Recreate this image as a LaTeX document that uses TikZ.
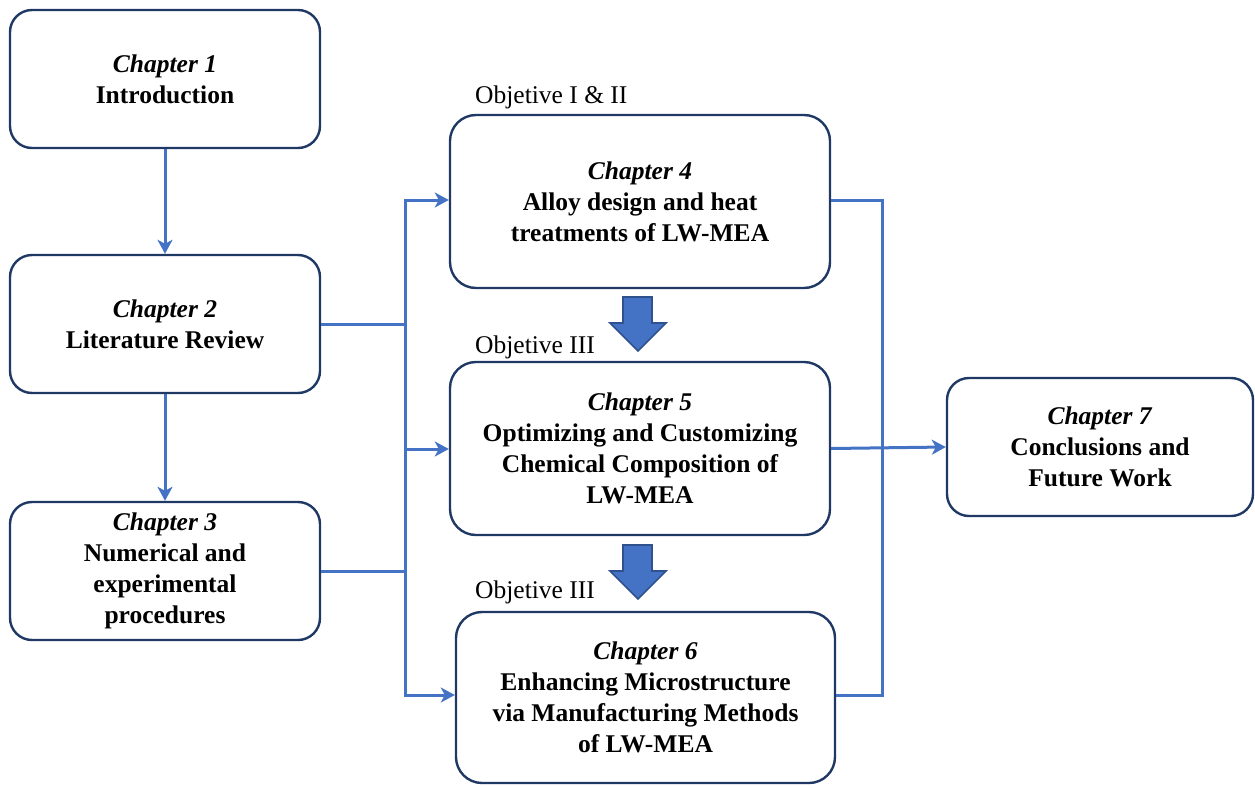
\documentclass[tikz,border=0pt]{standalone}
\usepackage{fontspec}
\setmainfont{Liberation Serif}
\usetikzlibrary{arrows.meta}
\definecolor{boxline}{HTML}{1F3864}
\definecolor{flow}{HTML}{4472C4}
\definecolor{flowdark}{HTML}{2F528F}
\begin{document}
\begin{tikzpicture}[x=1pt,y=-1pt,
  chapbox/.style={draw=boxline,line width=2.4pt,rounded corners=22pt,
    align=center,inner sep=0pt,font=\fontsize{25.5}{31}\selectfont\bfseries},
  flowline/.style={draw=flow,line width=3pt},
  flowarrow/.style={flowline,-{Stealth[length=14pt,width=15pt,inset=4pt]}},
  objlabel/.style={anchor=base west,inner sep=0pt,font=\fontsize{25.5}{31}\selectfont},
  bigarrow/.style={fill=flow,draw=flowdark,line width=1.6pt,line join=miter}]
\useasboundingbox (0,0) rectangle (1255,787);

% left column
\node[chapbox,minimum width=310pt,minimum height=138pt] (ch1) at (165,79)
  {\textit{Chapter 1}\\Introduction};
\node[chapbox,minimum width=310pt,minimum height=138pt] (ch2) at (165,324)
  {\textit{Chapter 2}\\Literature Review};
\node[chapbox,minimum width=310pt,minimum height=138pt] (ch3) at (165,571)
  {\textit{Chapter 3}\\Numerical and\\experimental\\procedures};

% middle column
\node[chapbox,rounded corners=26pt,minimum width=380pt,minimum height=173pt] (ch4) at (640,201.5)
  {\textit{Chapter 4}\\Alloy design and heat\\treatments of LW-MEA};
\node[chapbox,rounded corners=26pt,minimum width=380pt,minimum height=173pt] (ch5) at (640,448.5)
  {\textit{Chapter 5}\\Optimizing and Customizing\\Chemical Composition of\\LW-MEA};
\node[chapbox,rounded corners=26pt,minimum width=379pt,minimum height=171pt] (ch6) at (645.5,697.5)
  {\textit{Chapter 6}\\Enhancing Microstructure\\via Manufacturing Methods\\of LW-MEA};

% right column
\node[chapbox,minimum width=306pt,minimum height=138pt] (ch7) at (1100,447)
  {\textit{Chapter 7}\\Conclusions and\\Future Work};

% objective labels
\node[objlabel] (obj1) at (475,103) {Objetive I \& II};
\node[objlabel] (obj2) at (475,353) {Objetive III};
\node[objlabel] (obj3) at (475,598) {Objetive III};

% vertical flow on the left
\draw[flowarrow] (ch1.south) -- (ch2.north);
\draw[flowarrow] (ch2.south) -- (ch3.north);

% bus feeding chapters 4--6
\coordinate (busTop) at (405,200);
\coordinate (busMid) at (405,449);
\coordinate (busBot) at (405,695);
\draw[flowline] (ch2.east) -- (ch2.east -| busTop);
\draw[flowline] (ch3.east) -- (ch3.east -| busTop);
\draw[flowline,line cap=rect] (busBot) -- (busTop);
\draw[flowarrow] (busTop) -- (busTop -| ch4.west);
\draw[flowarrow] (busMid) -- (busMid -| ch5.west);
\draw[flowarrow] (busBot) -- (busBot -| ch6.west);

% collector on the right
\coordinate (colTop) at (882,200);
\coordinate (colBot) at (882,695);
\draw[flowline,line join=miter] (colTop -| ch4.east) -- (colTop) -- (colBot) -- (colBot -| ch6.east);
\draw[flowarrow] (ch5.east) -- (ch7.west);

% block arrows between chapters
\draw[bigarrow] (623,297) -- (652,297) -- (652,323) -- (666,323) -- (638,351)
  -- (610,323) -- (623,323) -- cycle;
\draw[bigarrow] (623,545) -- (652,545) -- (652,571) -- (666,571) -- (638,599)
  -- (610,571) -- (623,571) -- cycle;
\end{tikzpicture}
\end{document}
